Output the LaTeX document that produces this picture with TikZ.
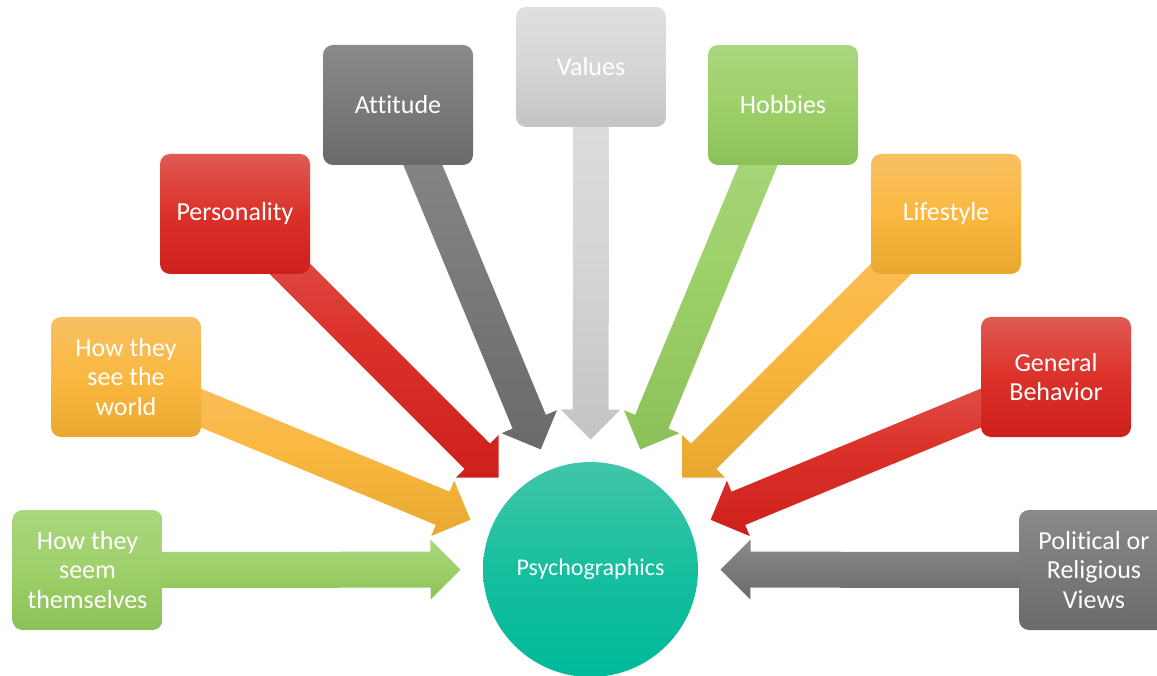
\documentclass[tikz,border=0pt]{standalone}
\usepackage{fontspec}
\setmainfont{Carlito}[Ligatures=NoCommon]
\usetikzlibrary{calc}
\pgfdeclarelayer{bg}
\pgfsetlayers{bg,main}
\definecolor{gT}{RGB}{170,214,126}
\definecolor{gM}{RGB}{158,208,106}
\definecolor{gB}{RGB}{140,192,88}
\definecolor{oT}{RGB}{247,192,98}
\definecolor{oM}{RGB}{251,184,65}
\definecolor{oB}{RGB}{232,168,48}
\definecolor{rT}{RGB}{224,90,84}
\definecolor{rM}{RGB}{219,49,41}
\definecolor{rB}{RGB}{206,32,28}
\definecolor{dT}{RGB}{138,138,138}
\definecolor{dM}{RGB}{122,122,122}
\definecolor{dB}{RGB}{106,106,106}
\definecolor{lT}{RGB}{223,223,223}
\definecolor{lM}{RGB}{214,214,214}
\definecolor{lB}{RGB}{196,196,196}
\definecolor{tT}{RGB}{66,197,169}
\definecolor{tM}{RGB}{22,191,158}
\definecolor{tB}{RGB}{0,186,154}
\tikzset{
  txt/.style={text=white, align=center, font=\fontsize{26}{29.5}\selectfont},
  box/.style={txt, rounded corners=10pt, minimum width=150pt, minimum height=120pt, inner sep=0pt},
  greenfill/.style={top color=gT, bottom color=gB, middle color=gM},
  orangefill/.style={top color=oT, bottom color=oB, middle color=oM},
  redfill/.style={top color=rT, bottom color=rB, middle color=rM},
  darkfill/.style={top color=dT, bottom color=dB, middle color=dM},
  lightfill/.style={top color=lT, bottom color=lB, middle color=lM},
  tealfill/.style={top color=tT, bottom color=tB, middle color=tM},
}
\newcommand\blkarrow[2]{%
  \coordinate (T) at ($(c.center)!130pt!(#1.center)$);
  \coordinate (H) at ($(T)!30pt!(#1.center)$);
  \shade[#2] ($(#1.center)!18pt!-90:(H)$) -- ($(H)!18pt!90:(#1.center)$)
    -- ($(H)!30pt!90:(#1.center)$) -- (T) -- ($(H)!30pt!-90:(#1.center)$)
    -- ($(H)!18pt!-90:(#1.center)$) -- ($(#1.center)!18pt!90:(H)$) -- cycle;
}
\begin{document}
\begin{tikzpicture}[x=1pt,y=-1pt]
\useasboundingbox (0,0) rectangle (1157,676);
\clip (0,0) rectangle (1157,676);
\node[circle, minimum size=215pt, inner sep=0pt, tealfill, txt, font=\fontsize{24}{28}\selectfont] (c) at (590.5,569.5) {Psychographics};
\node[box, greenfill]  (b1) at (87.5,570) {How they\\seem\\themselves};
\node[box, orangefill] (b2) at (126,377) {How they\\see the\\world};
\node[box, redfill]    (b3) at (235,214) {Personality};
\node[box, darkfill]   (b4) at (398,105) {Attitude};
\node[box, lightfill]  (b5) at (591,67) {Values};
\node[box, greenfill]  (b6) at (783,105) {Hobbies};
\node[box, orangefill] (b7) at (946,214) {Lifestyle};
\node[box, redfill]    (b8) at (1056,377) {General\\Behavior};
\node[box, darkfill]   (b9) at (1094,570) {Political or\\Religious\\Views};
\begin{pgfonlayer}{bg}
\blkarrow{b1}{greenfill}
\blkarrow{b2}{orangefill}
\blkarrow{b3}{redfill}
\blkarrow{b4}{darkfill}
\blkarrow{b5}{lightfill}
\blkarrow{b6}{greenfill}
\blkarrow{b7}{orangefill}
\blkarrow{b8}{redfill}
\blkarrow{b9}{darkfill}
\end{pgfonlayer}
\end{tikzpicture}
\end{document}
